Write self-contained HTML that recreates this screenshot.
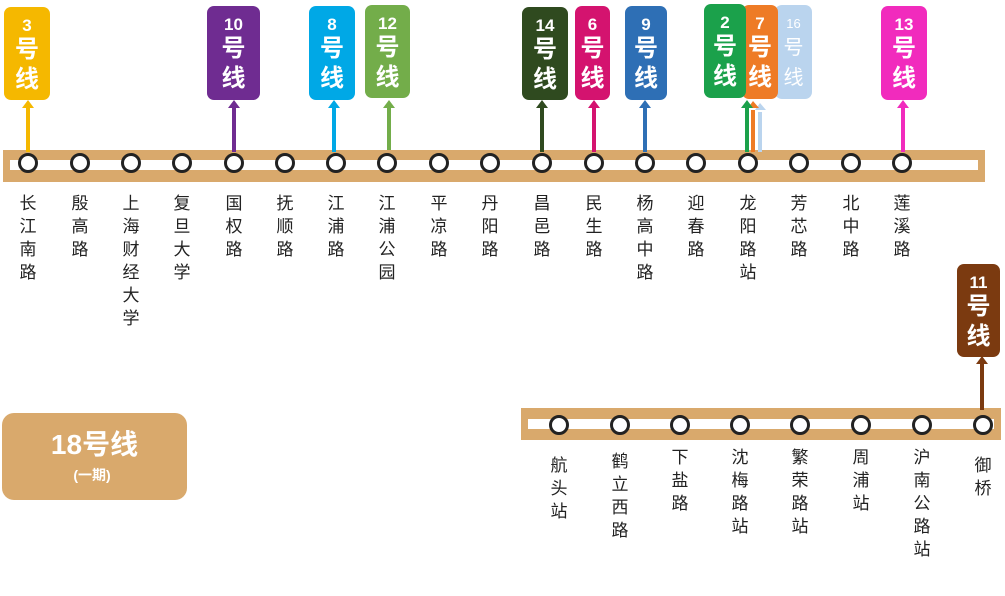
<!DOCTYPE html>
<html><head><meta charset="utf-8"><style>
body{margin:0;width:1005px;height:596px;background:#fff;position:relative;overflow:hidden;font-family:"Liberation Sans","Noto Sans CJK SC",sans-serif}
.b{position:absolute;border-radius:7px;color:#fff;text-align:center;font-weight:bold}
.b .n{font-size:17px;line-height:18px;margin-top:10px}
.b .h{font-size:24px;line-height:30px}
.l{position:absolute;width:24px;text-align:center;font-size:17px;line-height:23px;color:#222}
</style></head><body>
<svg width="1005" height="596" style="position:absolute;left:0;top:0">
<rect x="3" y="150" width="982" height="32" fill="#d9a96c"/>
<rect x="10" y="160" width="968" height="10" fill="#fff"/>
<rect x="521" y="408" width="480" height="32" fill="#d9a96c"/>
<rect x="528" y="419" width="466" height="10" fill="#fff"/>
<g stroke-width="4">
<line x1="28" y1="108" x2="28" y2="152" stroke="#f5b800"/>
<line x1="234" y1="108" x2="234" y2="152" stroke="#6f2c91"/>
<line x1="334" y1="108" x2="334" y2="152" stroke="#00a8e6"/>
<line x1="389" y1="108" x2="389" y2="150" stroke="#73ad4a"/>
<line x1="542" y1="108" x2="542" y2="152" stroke="#2f4a1f"/>
<line x1="594" y1="108" x2="594" y2="152" stroke="#d4136f"/>
<line x1="645" y1="108" x2="645" y2="152" stroke="#2e6fb5"/>
<line x1="760" y1="112" x2="760" y2="152" stroke="#bad4ee"/>
<line x1="753" y1="110" x2="753" y2="152" stroke="#ee7b26"/>
<line x1="747" y1="108" x2="747" y2="152" stroke="#1ba14b"/>
<line x1="903" y1="108" x2="903" y2="152" stroke="#f12bbd"/>
<line x1="982" y1="364" x2="982" y2="410" stroke="#7b3a10"/>
</g>
<g>
<polygon points="22,108 28,100 34,108" fill="#f5b800"/>
<polygon points="228,108 234,100 240,108" fill="#6f2c91"/>
<polygon points="328,108 334,100 340,108" fill="#00a8e6"/>
<polygon points="383,108 389,100 395,108" fill="#73ad4a"/>
<polygon points="536,108 542,100 548,108" fill="#2f4a1f"/>
<polygon points="588,108 594,100 600,108" fill="#d4136f"/>
<polygon points="639,108 645,100 651,108" fill="#2e6fb5"/>
<polygon points="755,110 760,103 766,110" fill="#bad4ee"/>
<polygon points="748,108 753,101 759,108" fill="#ee7b26"/>
<polygon points="741,108 747,100 753,108" fill="#1ba14b"/>
<polygon points="897,108 903,100 909,108" fill="#f12bbd"/>
<polygon points="976,364 982,356 988,364" fill="#7b3a10"/>
</g>
<g fill="#fff" stroke="#222" stroke-width="3">
<circle cx="28" cy="163" r="8.5"/><circle cx="80" cy="163" r="8.5"/><circle cx="131" cy="163" r="8.5"/><circle cx="182" cy="163" r="8.5"/><circle cx="234" cy="163" r="8.5"/><circle cx="285" cy="163" r="8.5"/><circle cx="336" cy="163" r="8.5"/><circle cx="387" cy="163" r="8.5"/><circle cx="439" cy="163" r="8.5"/><circle cx="490" cy="163" r="8.5"/><circle cx="542" cy="163" r="8.5"/><circle cx="594" cy="163" r="8.5"/><circle cx="645" cy="163" r="8.5"/><circle cx="696" cy="163" r="8.5"/><circle cx="748" cy="163" r="8.5"/><circle cx="799" cy="163" r="8.5"/><circle cx="851" cy="163" r="8.5"/><circle cx="902" cy="163" r="8.5"/>
<circle cx="559" cy="425" r="8.5"/><circle cx="620" cy="425" r="8.5"/><circle cx="680" cy="425" r="8.5"/><circle cx="740" cy="425" r="8.5"/><circle cx="800" cy="425" r="8.5"/><circle cx="861" cy="425" r="8.5"/><circle cx="922" cy="425" r="8.5"/><circle cx="983" cy="425" r="8.5"/>
</g>
<rect x="2" y="413" width="185" height="87" rx="12" fill="#d9a96c"/>
</svg>
<div style="position:absolute;left:2px;top:428px;width:185px;text-align:center;color:#fff;font-weight:bold;font-size:28px;line-height:34px">18号线</div>
<div style="position:absolute;left:2px;top:465px;width:180px;text-align:center;color:#fff;font-weight:bold;font-size:14px">(一期)</div>

<div class="b" style="left:4px;top:7px;width:46px;height:93px;background:#f5b800"><div class="n">3</div><div class="h">号<br>线</div></div>
<div class="b" style="left:207px;top:6px;width:53px;height:94px;background:#6f2c91"><div class="n">10</div><div class="h">号<br>线</div></div>
<div class="b" style="left:309px;top:6px;width:46px;height:94px;background:#00a8e6"><div class="n">8</div><div class="h">号<br>线</div></div>
<div class="b" style="left:365px;top:5px;width:45px;height:93px;background:#73ad4a"><div class="n">12</div><div class="h">号<br>线</div></div>
<div class="b" style="left:522px;top:7px;width:46px;height:93px;background:#2f4a1f"><div class="n">14</div><div class="h">号<br>线</div></div>
<div class="b" style="left:575px;top:6px;width:35px;height:94px;background:#d4136f"><div class="n">6</div><div class="h">号<br>线</div></div>
<div class="b" style="left:625px;top:6px;width:42px;height:94px;background:#2e6fb5"><div class="n">9</div><div class="h">号<br>线</div></div>
<div class="b" style="left:775px;top:5px;width:37px;height:94px;background:#bad4ee;font-weight:normal"><div class="n" style="font-size:13px">16</div><div class="h" style="font-size:20px">号<br>线</div></div>
<div class="b" style="left:742px;top:5px;width:36px;height:94px;background:#ee7b26"><div class="n">7</div><div class="h">号<br>线</div></div>
<div class="b" style="left:704px;top:4px;width:42px;height:94px;background:#1ba14b"><div class="n">2</div><div class="h">号<br>线</div></div>
<div class="b" style="left:881px;top:6px;width:46px;height:94px;background:#f12bbd"><div class="n">13</div><div class="h">号<br>线</div></div>
<div class="b" style="left:957px;top:264px;width:43px;height:93px;background:#7b3a10"><div class="n">11</div><div class="h">号<br>线</div></div>

<div class="l" style="left:16px;top:192px">长<br>江<br>南<br>路</div>
<div class="l" style="left:68px;top:192px">殷<br>高<br>路</div>
<div class="l" style="left:119px;top:192px">上<br>海<br>财<br>经<br>大<br>学</div>
<div class="l" style="left:170px;top:192px">复<br>旦<br>大<br>学</div>
<div class="l" style="left:222px;top:192px">国<br>权<br>路</div>
<div class="l" style="left:273px;top:192px">抚<br>顺<br>路</div>
<div class="l" style="left:324px;top:192px">江<br>浦<br>路</div>
<div class="l" style="left:375px;top:192px">江<br>浦<br>公<br>园</div>
<div class="l" style="left:427px;top:192px">平<br>凉<br>路</div>
<div class="l" style="left:478px;top:192px">丹<br>阳<br>路</div>
<div class="l" style="left:530px;top:192px">昌<br>邑<br>路</div>
<div class="l" style="left:582px;top:192px">民<br>生<br>路</div>
<div class="l" style="left:633px;top:192px">杨<br>高<br>中<br>路</div>
<div class="l" style="left:684px;top:192px">迎<br>春<br>路</div>
<div class="l" style="left:736px;top:192px">龙<br>阳<br>路<br>站</div>
<div class="l" style="left:787px;top:192px">芳<br>芯<br>路</div>
<div class="l" style="left:839px;top:192px">北<br>中<br>路</div>
<div class="l" style="left:890px;top:192px">莲<br>溪<br>路</div>

<div class="l" style="left:547px;top:454px">航<br>头<br>站</div>
<div class="l" style="left:608px;top:450px">鹤<br>立<br>西<br>路</div>
<div class="l" style="left:668px;top:446px">下<br>盐<br>路</div>
<div class="l" style="left:728px;top:446px">沈<br>梅<br>路<br>站</div>
<div class="l" style="left:788px;top:446px">繁<br>荣<br>路<br>站</div>
<div class="l" style="left:849px;top:446px">周<br>浦<br>站</div>
<div class="l" style="left:910px;top:446px">沪<br>南<br>公<br>路<br>站</div>
<div class="l" style="left:971px;top:454px">御<br>桥</div>
</body></html>
